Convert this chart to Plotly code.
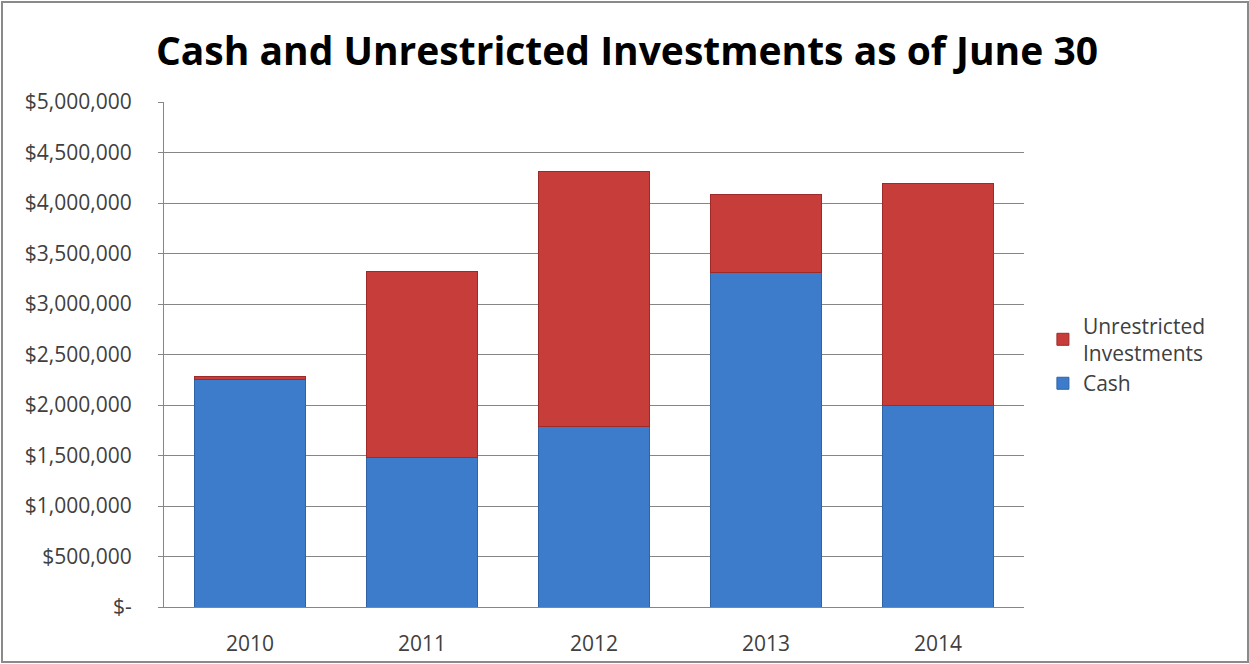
import plotly.graph_objects as go

years = ["2010", "2011", "2012", "2013", "2014"]
cash = [2250000, 1485000, 1785000, 3310000, 2000000]
investments = [30000, 1835000, 2530000, 770000, 2195000]
y_ticks = [0, 500000, 1000000, 1500000, 2000000, 2500000, 3000000, 3500000, 4000000, 4500000, 5000000]


def money(v):
    return "$-" if v == 0 else "${:,}".format(v)


y_ticktext = [money(v) for v in y_ticks]

FONT = "Open Sans"
fig = go.Figure()
fig.add_trace(go.Bar(
    x=years, y=cash, name="Cash",
    marker=dict(color="#3D7CCB", line=dict(color="#2F62A6", width=1)),
))
fig.add_trace(go.Bar(
    x=years, y=investments, name="Unrestricted<br>Investments",
    marker=dict(color="#C63D3A", line=dict(color="#9E2B2A", width=1)),
))

fig.update_layout(
    width=1249, height=664,
    barmode="stack", bargap=0.35,
    paper_bgcolor="white", plot_bgcolor="white",
    margin=dict(l=164, r=225, t=102, b=57),
    title=dict(text="<b>Cash and Unrestricted Investments as of June 30</b>",
               x=0.502, xanchor="center", xref="container", y=0.922, yanchor="middle",
               font=dict(family=FONT, size=39, color="#000000")),
    font=dict(family=FONT, color="#404040", size=20),
    legend=dict(traceorder="reversed", x=1.022, xanchor="left", y=0.5, yanchor="middle",
                font=dict(family=FONT, size=21, color="#404040"),
                itemwidth=30, tracegroupgap=0),
    showlegend=True,
    shapes=[dict(type="rect", xref="paper", yref="paper",
                 x0=-162/860, x1=1084/860, y0=-55/505, y1=1 + 100/505,
                 line=dict(color="#8a8a8a", width=2), fillcolor="rgba(0,0,0,0)", layer="below")],
)
fig.update_xaxes(showline=True, linecolor="#868686", linewidth=1,
                 tickfont=dict(family=FONT, size=21, color="#404040"), ticks="",
                 ticklabelstandoff=18, automargin=False)
fig.update_yaxes(range=[0, 5000000], tickvals=y_ticks, ticktext=y_ticktext,
                 showgrid=True, gridcolor="#868686", gridwidth=1,
                 showline=True, linecolor="#868686", linewidth=1,
                 ticks="outside", ticklen=5, tickcolor="#868686",
                 tickfont=dict(family=FONT, size=21, color="#404040"),
                 ticklabelstandoff=22, zeroline=False, automargin=False)

fig.write_html("out.html")
